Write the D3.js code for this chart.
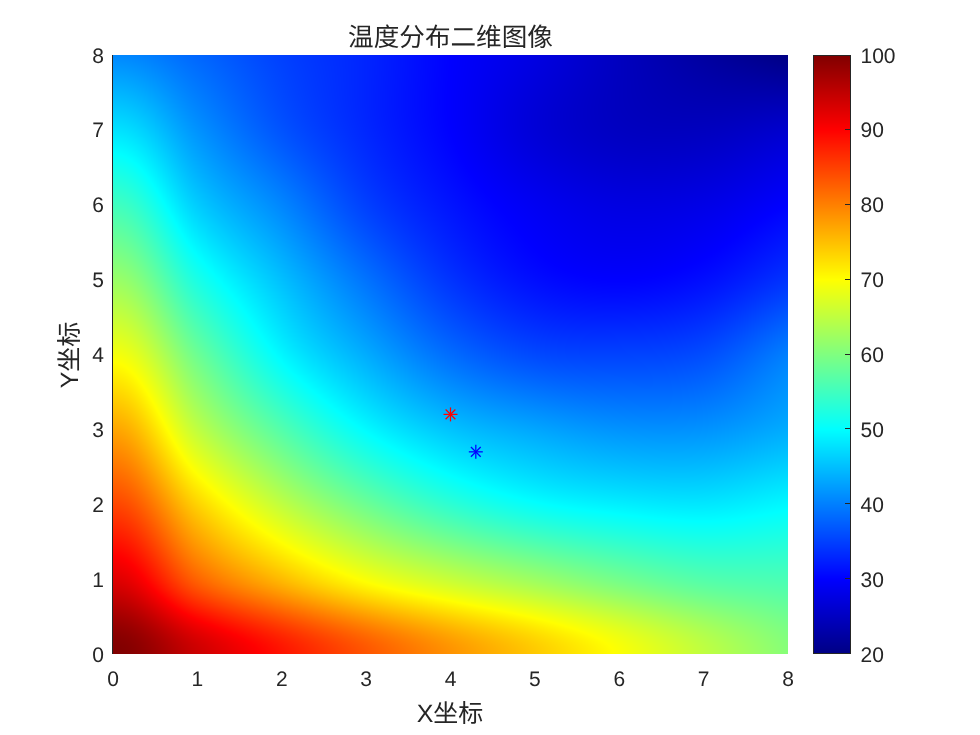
<!DOCTYPE html>
<html><head><meta charset="utf-8">
<script src="https://cdn.jsdelivr.net/npm/d3@7"></script>
<style>html,body{margin:0;padding:0;background:#fff}#w{position:relative;width:980px;height:735px}canvas,svg{position:absolute;left:0;top:0}text{text-rendering:geometricPrecision}</style>
</head><body><div id="w"><svg id="s" width="980" height="735"></svg></div>
<script>
const titleText = "温度分布二维图像", xLabel = "X坐标", yLabel = "Y坐标";
const gridX = [0,1,2,3,4,5,6,7,8];
const gridY = [0,1,2,3,4,5,6,7,8];
const tempRow0 = [100,94,88.5,83.3,78.5,74.2,69.7,65,60.5];
const tempRow1 = [92.5,82.2,75.3,69.5,65.5,62.2,59,56.5,55.7];
const tempRow2 = [84.5,73.5,65,58.5,53.5,50.3,48.8,48.2,49.5];
const tempRow3 = [77,65,56.5,49.7,45.3,43,41.5,41.5,43.5];
const tempRow4 = [69.2,58.5,49.4,43.5,38.5,35.7,35.2,36,40];
const tempRow5 = [62,52,45,39,34,31,30,31,34];
const tempRow6 = [55,46,40.5,35,31.5,29,27.6,28,30];
const tempRow7 = [47.7,41.5,36.5,33,30,26.8,25,24.8,26];
const tempRow8 = [40.6,38,35,32.8,30,27.6,24.8,22.3,20];
const temps = [tempRow0,tempRow1,tempRow2,tempRow3,tempRow4,tempRow5,tempRow6,tempRow7,tempRow8];
const axisTicks = [0,1,2,3,4,5,6,7,8];
const barTicks = [20,30,40,50,60,70,80,90,100];
const markerX = [4,4.3], markerY = [3.2,2.7], markerColor = ["#ff0000","#0000ff"];
const jetStops = [20,30,50,70,90,100];
const jetColors = ["#000084","#0000ff","#00ffff","#ffff00","#ff0000","#800000"];

const L=113,R=788,T=55,B=654,CL=813,CR=851;
const ink="#262626", latin="'Liberation Sans',Arial,sans-serif", cjk="'Liberation Sans','Noto Sans CJK SC',sans-serif";
const x=d3.scaleLinear().domain([0,8]).range([L,R]);
const y=d3.scaleLinear().domain([0,8]).range([B,T]);
const cy=d3.scaleLinear().domain([20,100]).range([B,T]);
const color=d3.scaleLinear().domain(jetStops).range(jetColors).clamp(true);

function cr(p0,p1,p2,p3,t){return 0.5*(2*p1+(p2-p0)*t+(2*p0-5*p1+4*p2-p3)*t*t+(3*p1-p0-3*p2+p3)*t*t*t);}
function sample(vx,vy){
  const ix=Math.min(7,Math.floor(vx)), iy=Math.min(7,Math.floor(vy)), tx=vx-ix, ty=vy-iy;
  const g=(j,i)=>{
    const cj=Math.max(0,Math.min(8,j)), ci=Math.max(0,Math.min(8,i));
    let v=temps[cj][ci];
    if(i!==ci) v+= (i-ci)*(temps[cj][ci]-temps[cj][ci-(i-ci)]);
    if(j!==cj) v+= (j-cj)*(temps[cj][ci]-temps[cj-(j-cj)][ci]);
    return v;};
  const r=[-1,0,1,2].map(dj=>cr(g(iy+dj,ix-1),g(iy+dj,ix),g(iy+dj,ix+1),g(iy+dj,ix+2),tx));
  return cr(r[0],r[1],r[2],r[3],ty);
}
function canvasAt(l,t,w,h){const c=document.createElement("canvas");c.width=w;c.height=h;c.style.left=l+"px";c.style.top=t+"px";
  document.getElementById("w").insertBefore(c,document.getElementById("s"));return c.getContext("2d");}
const hm=canvasAt(L,T,R-L,B-T);
for(let py=0;py<B-T;py++)for(let px=0;px<R-L;px++){
  hm.fillStyle=color(sample(x.invert(L+px+.5),y.invert(T+py+.5)));hm.fillRect(px,py,1,1);
}
const cb=canvasAt(CL,T,CR-CL,B-T);
for(let py=0;py<B-T;py++){cb.fillStyle=color(cy.invert(T+py+.5));cb.fillRect(0,py,CR-CL,1);}

const s=d3.select("#s");
function txt(X,Y,t,size,anchor,fam){return s.append("text").attr("x",X).attr("y",Y).attr("fill",ink).attr("font-size",size).attr("text-anchor",anchor).attr("font-family",fam).text(t);}
axisTicks.forEach(d=>{txt(x(d),686,d,21,"middle",latin);txt(104,y(d)+7.5,d,21,"end",latin);});
s.append("line").attr("x1",112.5).attr("x2",112.5).attr("y1",T).attr("y2",B).attr("stroke",ink);
s.append("rect").attr("x",CL+.5).attr("y",T+.5).attr("width",CR-CL-1).attr("height",B-T-1).attr("fill","none").attr("stroke",ink);
barTicks.forEach(d=>{
  const ty=Math.min(B-.5,Math.max(T+.5,Math.round(cy(d))-.5));
  s.append("line").attr("x1",CR-6).attr("x2",CR).attr("y1",ty).attr("y2",ty).attr("stroke",ink);
  txt(860.5,cy(d)+7.5,d,21,"start",latin);
});
txt(450.5,46,titleText,25.6,"middle",cjk);
txt(450,722,xLabel,25,"middle",cjk);
txt(0,0,yLabel,25,"middle",cjk).attr("transform","translate(78,355) rotate(-90)");
markerX.forEach((mx,i)=>{
  const g=s.append("g").attr("transform",`translate(${x(mx)},${y(markerY[i])})`).attr("stroke",markerColor[i]).attr("stroke-width",1.25);
  const r=7;
  [[r,0],[0,r],[r*.7,r*.7],[r*.7,-r*.7]].forEach(([a,b])=>g.append("line").attr("x1",-a).attr("y1",-b).attr("x2",a).attr("y2",b));
});
</script></body></html>
